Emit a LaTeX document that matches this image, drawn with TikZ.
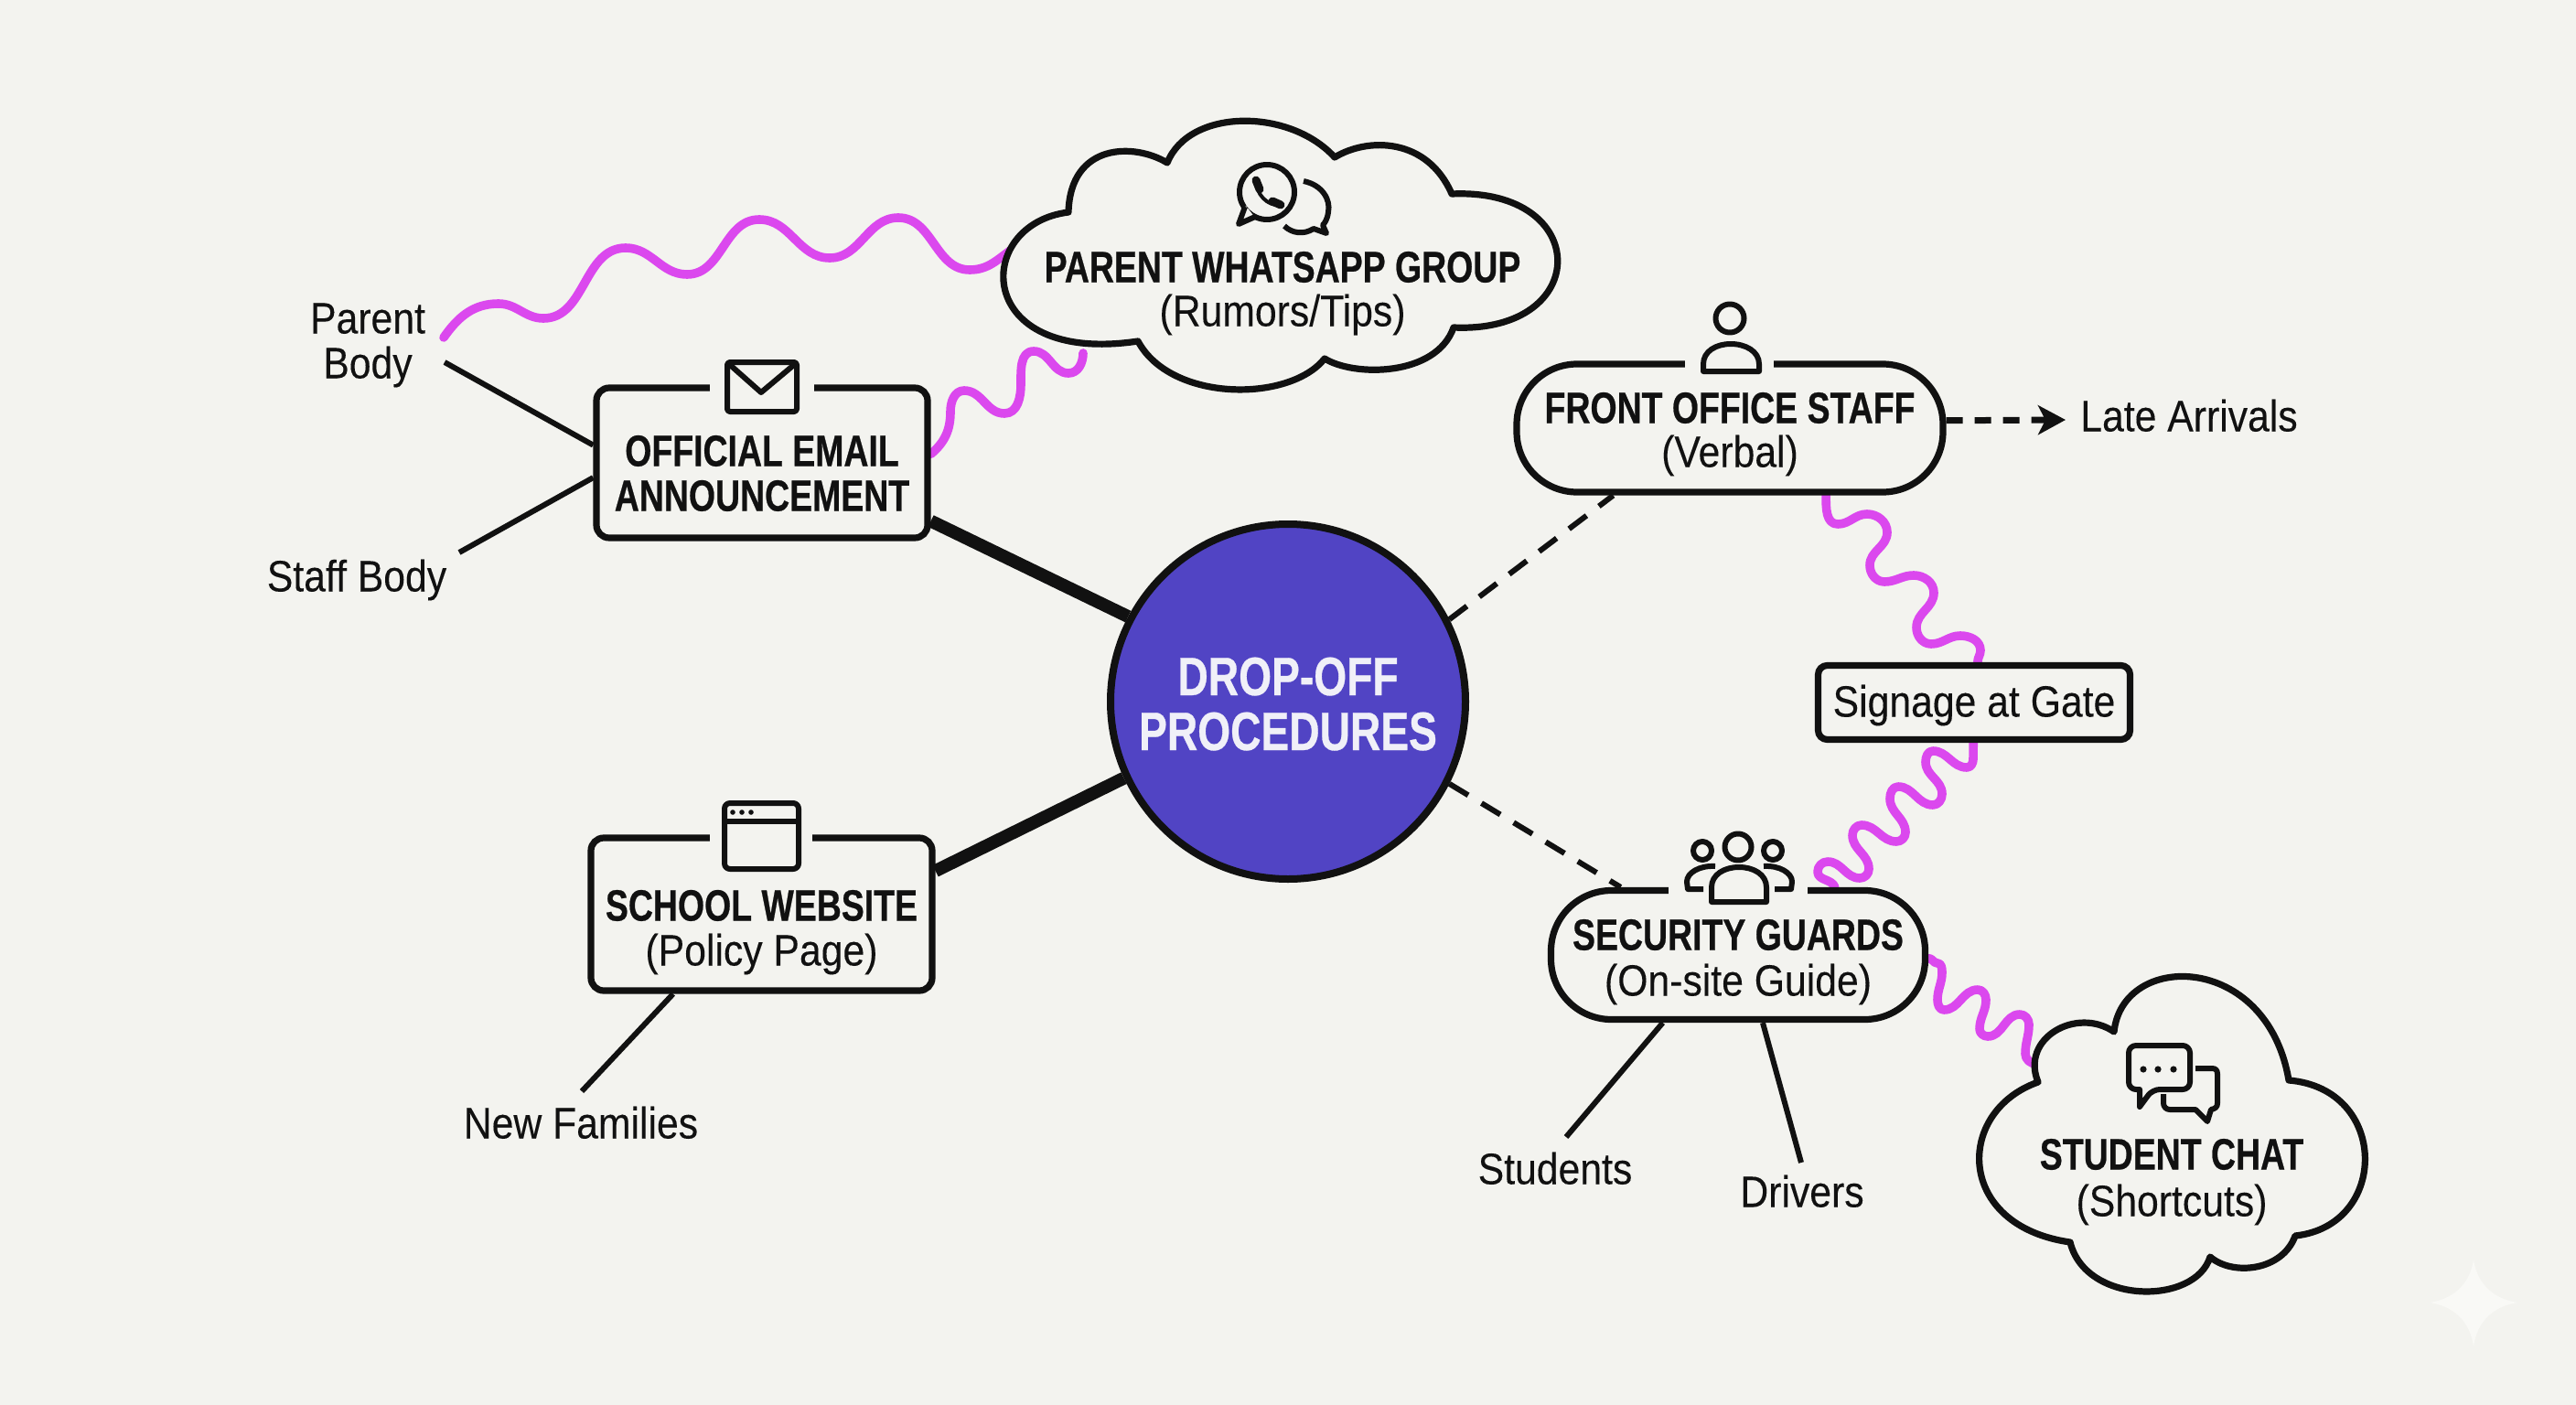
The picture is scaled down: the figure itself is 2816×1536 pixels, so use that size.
\documentclass[tikz,border=0pt]{standalone}
\usepackage{fontspec}
\setmainfont[FakeStretch=.89,FakeBold=.15,BoldFeatures={FakeStretch=.78,FakeBold=.5}]{Liberation Sans}
\usetikzlibrary{arrows.meta,backgrounds}
\definecolor{bg}{RGB}{243,243,239}
\definecolor{ink}{RGB}{17,17,17}
\definecolor{wavec}{RGB}{219,72,238}
\definecolor{hub}{RGB}{81,68,196}
\definecolor{hubtext}{RGB}{240,240,248}
\definecolor{starc}{RGB}{249,249,246}
\newcommand\twoln[3]{\raisebox{0pt}[#1][0pt]{#2}\\\raisebox{0pt}[0pt][0pt]{#3}}
\newcommand\oneln[2]{\raisebox{0pt}[#1][0pt]{#2}}
\newcommand\hd{\bfseries}
\tikzset{
  tx/.style={align=center,inner sep=0pt,text=ink,font=\fontsize{24}{#1}\selectfont},
  lbl/.style={anchor=base,inner sep=0pt,text=ink,font=\fontsize{24}{24}\selectfont},
  boxn/.style={draw=ink,line width=3.6pt,fill=bg,rounded corners=#1},
  hubn/.style={circle,draw=ink,line width=4pt,fill=hub,inner sep=0pt,minimum size=194pt,text=hubtext,align=center,font=\fontsize{29.6}{30}\selectfont},
  thick line/.style={draw=ink,line width=7pt},
  thin line/.style={draw=ink,line width=3pt},
  dash line/.style={draw=ink,line width=3pt,dash pattern=on 12pt off 8.5pt},
  wave/.style={draw=wavec,line width=4.8pt,line cap=round,line join=round},
  outline/.style={draw=ink,fill=bg,line width=3.6pt,line join=round},
  icon/.style={draw=ink,line width=3pt,line join=round},
  gapc/.style={fill=bg}
}
\begin{document}
\begin{tikzpicture}[x=.5pt,y=-.5pt]
\useasboundingbox (0,0) rectangle (2816,1536);
\begin{scope}[on background layer]
  \fill[bg] (0,0) rectangle (2816,1536);
\end{scope}
% watermark star
\fill[starc] (2704,1377) .. controls (2708,1404) and (2726,1420) .. (2752,1424) .. controls (2726,1428) and (2708,1444) .. (2704,1472) .. controls (2700,1444) and (2682,1428) .. (2656,1424) .. controls (2682,1420) and (2700,1404) .. (2704,1377) -- cycle;
% cloud outlines
\draw[outline] (1168,232) .. controls (1170,156) and (1240,156) .. (1276,178)
  .. controls (1300,118) and (1410,118) .. (1459,172)
  .. controls (1495,150) and (1560,150) .. (1587,212)
  .. controls (1741,205) and (1741,365) .. (1589,358)
  .. controls (1570,412) and (1480,412) .. (1448,392)
  .. controls (1410,440) and (1280,440) .. (1244,373)
  .. controls (1063,400) and (1063,245) .. (1168,232) -- cycle;
\draw[outline] (2228,1183) .. controls (2208,1135) and (2270,1100) .. (2311,1128)
  .. controls (2320,1040) and (2478,1040) .. (2502,1181)
  .. controls (2612,1190) and (2612,1340) .. (2509,1351)
  .. controls (2495,1390) and (2440,1395) .. (2416,1374)
  .. controls (2400,1427) and (2280,1427) .. (2263,1358)
  .. controls (2137,1340) and (2137,1215) .. (2228,1183) -- cycle;
% nodes
\node[hubn] (drop) at (1408,767) {\twoln{23pt}{\hd DROP-OFF}{\hd PROCEDURES}};
\node[tx=24.5pt,boxn=7pt,minimum width=181pt,minimum height=82pt] (email) at (833,506) {\twoln{28pt}{\hd OFFICIAL EMAIL}{\hd ANNOUNCEMENT}};
\node[tx=24.5pt,boxn=7pt,minimum width=186.5pt,minimum height=83.5pt] (school) at (832.5,999.5) {\twoln{31.5pt}{\hd SCHOOL WEBSITE}{(Policy Page)}};
\node[tx=24pt,boxn=33pt,minimum width=233pt,minimum height=70pt] (front) at (1891,468) {\twoln{18.5pt}{\hd FRONT OFFICE STAFF}{(Verbal)}};
\node[tx=25pt,boxn=33pt,minimum width=204.5pt,minimum height=70.5pt] (security) at (1900,1044) {\twoln{19.5pt}{\hd SECURITY GUARDS}{(On-site Guide)}};
\node[tx=24pt,boxn=5pt,minimum width=170.5pt,minimum height=40.5pt] (signage) at (2158,768) {\oneln{15.5pt}{Signage at Gate}};
\node[tx=24pt] (whatsapp) at (1402,332.5) {\twoln{0pt}{\hd PARENT WHATSAPP GROUP}{(Rumors/Tips)}};
\node[tx=25.5pt] (studentchat) at (2374,1304) {\twoln{0pt}{\hd STUDENT CHAT}{(Shortcuts)}};
\node[tx=24.5pt] (parent) at (402,389) {\twoln{0pt}{Parent}{Body}};
\node[lbl] (staff) at (390,646.5) {Staff Body};
\node[lbl] (newfam) at (635,1244.5) {New Families};
\node[lbl] (students) at (1700,1294.5) {Students};
\node[lbl] (drivers) at (1970,1319.5) {Drivers};
\node[lbl] (late) at (2393,471.5) {Late Arrivals};
% free ends
\coordinate (parentline) at (486,396);
\coordinate (staffline) at (502,604);
\coordinate (newline) at (636,1193);
\coordinate (studentsline) at (1712,1243);
\coordinate (driversline) at (1969,1271);
\coordinate (lateline) at (2258,459);
\coordinate (parentwave) at (485,369);
\coordinate (wacloudA) at (1107,272);
\coordinate (wacloudB) at (1184,386);
\coordinate (chatcloud) at (2226,1163);
% connectors
\draw[thick line] (drop.152) -- (email.-19.5);
\draw[thick line] (drop.205.5) -- (school.14);
\draw[thin line] (email.174) -- (parentline);
\draw[thin line] (email.185.4) -- (staffline);
\draw[thin line] (school.222) -- (newline);
\draw[thin line] (security.222.7) -- (studentsline);
\draw[thin line] (security.-70.6) -- (driversline);
\draw[dash line] (drop.27.5) -- (front.210);
\draw[dash line] (drop.-27.6) -- (security.150.8);
\draw[draw=ink,line width=3.5pt,dash pattern=on 9pt off 6.5pt,-{Stealth[length=15pt,width=16pt,inset=4pt]}] (front.2.2) -- (lateline);
\begin{scope}[on background layer]
\draw[wave] (parentwave) to[out=55,in=180] (545,332) to[out=0,in=180] (594,348) to[out=0,in=180] (684,271) to[out=0,in=180] (751,300) to[out=0,in=180] (830,240) to[out=0,in=180] (907,282) to[out=0,in=180] (982,238) to[out=0,in=180] (1060,295) to[out=0,in=215] (wacloudA);
\draw[wave] (email.3.7) to[out=40,in=-90] (1039,450) to[out=90,in=180] (1054,427) to[out=0,in=180] (1098,452) to[out=0,in=-90] (1116,420) to[out=90,in=180] (1130,384) to[out=0,in=180] (1168,408) to[out=0,in=-90] (wacloudB);
\draw[wave] (front.-35.6) to[out=-90,in=180] (2009,573) to[out=0,in=180] (2041,562) to[out=0,in=90] (2063,582) to[out=-90,in=90] (2044,618) to[out=-90,in=180] (2060,636) to[out=0,in=180] (2092,629) to[out=0,in=90] (2114,648) to[out=-90,in=90] (2095,686) to[out=-90,in=180] (2111,704) to[out=0,in=180] (2143,695) to[out=0,in=90] (2165,711) to[out=-90,in=90] (signage.85);
\draw[wave] (signage.-91) -- (2157,830) to[out=-90,in=0] (2150,839) to[out=180,in=0] (2113,821) to[out=180,in=90] (2105,833) to[out=-90,in=90] (2123,868) to[out=-90,in=0] (2113,880) to[out=180,in=0] (2075,860) to[out=180,in=90] (2066,873) to[out=-90,in=90] (2083,910) to[out=-90,in=0] (2073,920) to[out=180,in=0] (2035,902) to[out=180,in=90] (2025,913) to[out=-90,in=90] (2043,950) to[out=-90,in=0] (2033,960) to[out=180,in=0] (1998,942) to[out=180,in=90] (1987,953) to[out=-90,in=110] (security.35.8);
\draw[wave] (security.-1.6) to[out=0,in=180] (2118,1053) to[out=0,in=90] (2123,1063) to[out=-90,in=90] (2118,1093) to[out=-90,in=180] (2125,1104) to[out=0,in=180] (2162,1082) to[out=0,in=90] (2171,1093) to[out=-90,in=90] (2164,1125) to[out=-90,in=180] (2173,1133) to[out=0,in=180] (2208,1109) to[out=0,in=90] (2218,1120) to[out=-90,in=90] (2214,1152) to[out=-90,in=180] (chatcloud);
\end{scope}
% icon: envelope
\fill[gapc] (776,416) rectangle (890,432);
\draw[icon,rounded corners=1.5pt] (795,396) rectangle (871,450);
\draw[icon] (797,398) -- (832,429) -- (869,398);
% icon: browser
\fill[gapc] (776,908) rectangle (888,924);
\draw[icon,rounded corners=3pt] (792,878) rectangle (873,950);
\draw[icon] (792,898) -- (873,898);
\fill[ink] (801,888) circle[radius=2.8] (811,888) circle[radius=2.8] (821,888) circle[radius=2.8];
% icon: person
\fill[gapc] (1842,390) rectangle (1939,406);
\draw[icon] (1891,348) circle[radius=15.5];
\draw[icon] (1862,406) -- (1923,406) -- (1923,398) .. controls (1923,384) and (1908,376) .. (1892,376) .. controls (1876,376) and (1862,384) .. (1862,398) -- cycle;
% icon: people
\fill[gapc] (1824,966) rectangle (1976,982);
\draw[icon] (1900,926) circle[radius=14.5];
\draw[icon] (1861,930) circle[radius=10];
\draw[icon] (1938,930) circle[radius=10];
\draw[icon] (1871,986) -- (1931,986) -- (1931,970) .. controls (1931,956) and (1917,948) .. (1901,948) .. controls (1885,948) and (1871,956) .. (1871,970) -- cycle;
\draw[icon] (1862,972) -- (1845,972) -- (1844,964) .. controls (1844,954) and (1858,946) .. (1875,947);
\draw[icon] (1940,972) -- (1958,972) -- (1959,964) .. controls (1959,954) and (1945,946) .. (1928,947);
% icon: whatsapp
\draw[icon] (1385,210) circle[radius=30];
\fill[gapc] (1362,225) -- (1354,246) -- (1372,238) -- cycle;
\draw[icon] (1361,226) -- (1354,245) -- (1372,237);
\draw[icon] (1425,198) .. controls (1445,202) and (1455,218) .. (1452,232) .. controls (1451,240) and (1448,244) .. (1446,246) -- (1450,255) -- (1436,250) .. controls (1425,257) and (1412,255) .. (1404,247);
\draw[draw=ink,line width=2pt] (1374,197) .. controls (1372,212) and (1386,226) .. (1400,224);
\draw[draw=ink,line width=4.5pt,line cap=round] (1373,197) -- (1377,207);
\draw[draw=ink,line width=4.5pt,line cap=round] (1391,220) -- (1400,224);
% icon: chat
\draw[icon] (2400,1168) -- (2418,1168) .. controls (2422,1168) and (2424,1170) .. (2424,1174) -- (2424,1206) .. controls (2424,1210) and (2422,1212) .. (2417,1213) -- (2413,1226) -- (2400,1213) -- (2372,1213) .. controls (2368,1213) and (2365,1210) .. (2365,1206) -- (2365,1196);
\draw[icon,rounded corners=4pt] (2327,1143) -- (2394,1143) -- (2394,1191) -- (2353,1191) [sharp corners] -- (2339,1210) -- (2339,1191) [rounded corners=4pt] -- (2327,1191) -- cycle;
\fill[ink] (2343,1169) circle[radius=3.6] (2359,1169) circle[radius=3.6] (2376,1169) circle[radius=3.6];
\end{tikzpicture}
\end{document}
